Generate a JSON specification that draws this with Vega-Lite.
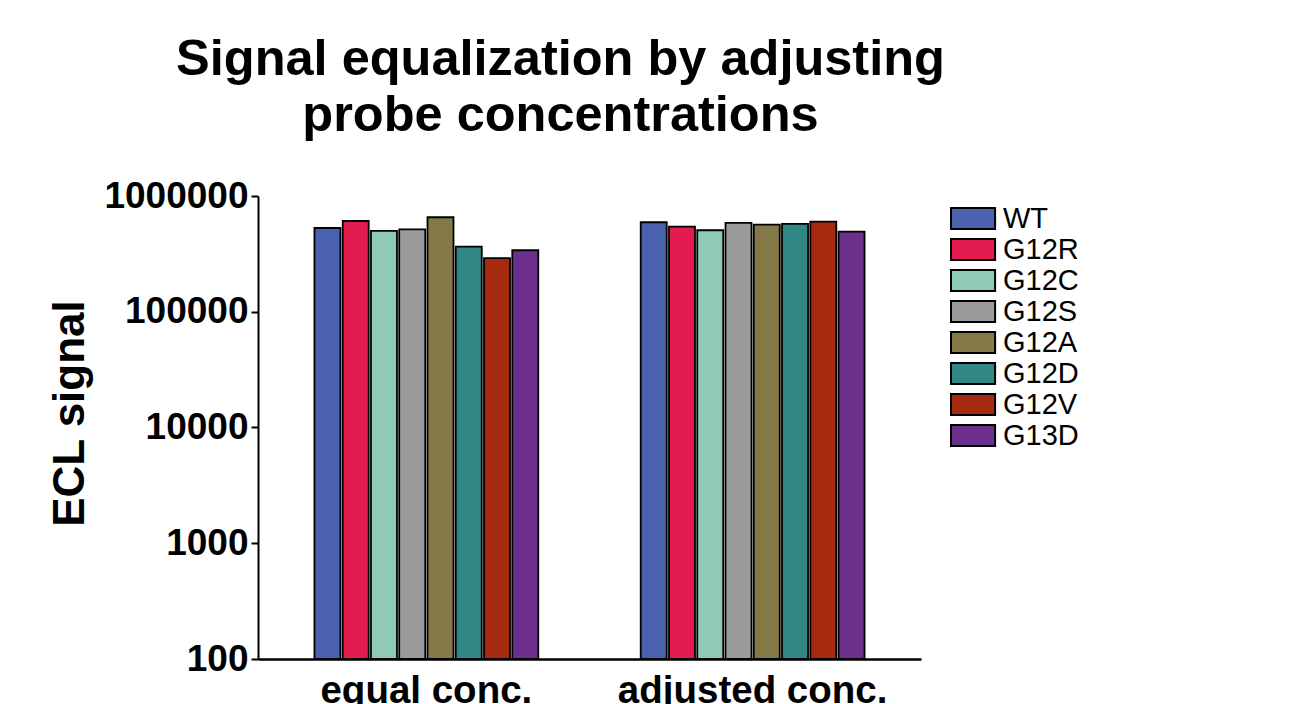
{
  "$schema": "https://vega.github.io/schema/vega-lite/v6.json",
  "autosize": {"type": "none"},
  "width": 663,
  "height": 463,
  "padding": {"left": 258, "top": 196, "right": 391, "bottom": 45},
  "background": "white",
  "config": {
    "font": "Liberation Sans",
    "view": {"stroke": null}
  },
  "title": {
    "text": ["Signal equalization by adjusting", "probe concentrations"],
    "anchor": "middle",
    "frame": "group",
    "dx": -29,
    "fontSize": 50.5,
    "fontWeight": "bold",
    "font": "Liberation Sans",
    "color": "black",
    "lineHeight": 56,
    "baseline": "alphabetic",
    "offset": -4
  },
  "data": {
    "values": [
      {"condition": "equal conc.", "probe": "WT", "signal": 529000},
      {"condition": "equal conc.", "probe": "G12R", "signal": 608000},
      {"condition": "equal conc.", "probe": "G12C", "signal": 499000},
      {"condition": "equal conc.", "probe": "G12S", "signal": 515000},
      {"condition": "equal conc.", "probe": "G12A", "signal": 655000},
      {"condition": "equal conc.", "probe": "G12D", "signal": 365000},
      {"condition": "equal conc.", "probe": "G12V", "signal": 291000},
      {"condition": "equal conc.", "probe": "G13D", "signal": 340000},
      {"condition": "adjusted conc.", "probe": "WT", "signal": 593000},
      {"condition": "adjusted conc.", "probe": "G12R", "signal": 543000},
      {"condition": "adjusted conc.", "probe": "G12C", "signal": 506000},
      {"condition": "adjusted conc.", "probe": "G12S", "signal": 585000},
      {"condition": "adjusted conc.", "probe": "G12A", "signal": 565000},
      {"condition": "adjusted conc.", "probe": "G12D", "signal": 575000},
      {"condition": "adjusted conc.", "probe": "G12V", "signal": 600000},
      {"condition": "adjusted conc.", "probe": "G13D", "signal": 492000}
    ]
  },
  "mark": {"type": "bar", "stroke": "black", "strokeWidth": 1.8},
  "encoding": {
    "x": {
      "field": "condition",
      "type": "nominal",
      "sort": ["equal conc.", "adjusted conc."],
      "scale": {"paddingInner": 0.314, "paddingOuter": 0.173},
      "axis": {
        "title": null,
        "labelAngle": 0,
        "labelFontSize": 38.5,
        "labelFontWeight": "bold",
        "labelColor": "black",
        "labelPadding": 13,
        "labelOverlap": false,
        "labelBound": false,
        "labelLimit": 500,
        "ticks": false,
        "domainColor": "black",
        "domainWidth": 2.5
      }
    },
    "xOffset": {
      "field": "probe",
      "type": "nominal",
      "sort": ["WT", "G12R", "G12C", "G12S", "G12A", "G12D", "G12V", "G13D"],
      "scale": {"paddingInner": 0.08}
    },
    "y": {
      "field": "signal",
      "type": "quantitative",
      "scale": {"type": "log", "domain": [100, 1000000], "nice": false},
      "axis": {
        "title": "ECL signal",
        "titleFontSize": 44,
        "titleFontWeight": "bold",
        "titleColor": "black",
        "titleAngle": -90,
        "titleAlign": "center",
        "titleBaseline": "alphabetic",
        "titleX": -175,
        "titleY": 217,
        "values": [100, 1000, 10000, 100000, 1000000],
        "format": "d",
        "grid": false,
        "labelFontSize": 37,
        "labelFontWeight": "bold",
        "labelColor": "black",
        "labelPadding": 3,
        "labelOverlap": false,
        "labelBound": false,
        "labelFlush": false,
        "tickSize": 7,
        "tickWidth": 2,
        "tickColor": "black",
        "domainColor": "black",
        "domainWidth": 2
      }
    },
    "y2": {"datum": 100},
    "color": {
      "field": "probe",
      "type": "nominal",
      "scale": {
        "domain": ["WT", "G12R", "G12C", "G12S", "G12A", "G12D", "G12V", "G13D"],
        "range": ["#4a62ae", "#e31b4f", "#8fcbb4", "#9b9b9b", "#857a47", "#318784", "#a52a0f", "#6c2f8b"]
      },
      "legend": {
        "title": null,
        "orient": "none",
        "legendX": 689,
        "legendY": 8,
        "padding": 0,
        "symbolType": "M-1,-1H3.2V1H-1Z",
        "symbolSize": 441,
        "symbolStrokeColor": "black",
        "symbolStrokeWidth": 2,
        "symbolOpacity": 1,
        "labelFontSize": 29,
        "labelColor": "black",
        "labelOffset": 27,
        "rowPadding": 1,
        "labelLimit": 300
      }
    }
  }
}
